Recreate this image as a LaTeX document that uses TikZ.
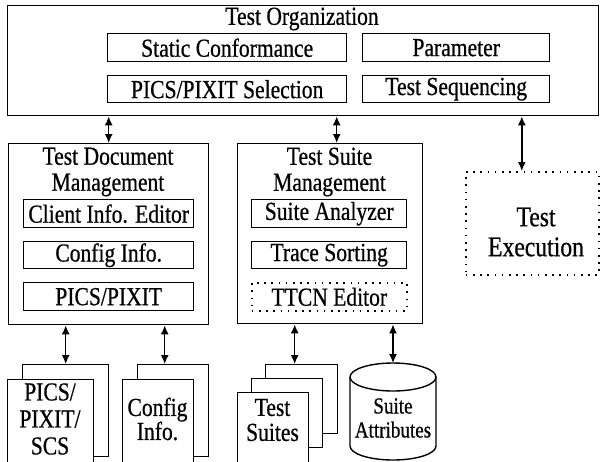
\documentclass[tikz,border=0pt]{standalone}
\usepackage{fontspec}
\setmainfont[FakeStretch=0.83,FakeBold=0.6]{Liberation Serif}
\usetikzlibrary{arrows.meta}
\begin{document}
\begin{tikzpicture}[x=1pt,y=-1pt,
  lw/.style={line width=1.4pt},
  frame/.style={draw,lw,fill=white,inner sep=0pt,anchor=north west},
  dotbox/.style={draw,line width=1.6pt,dash pattern=on 1.6pt off 5.6pt,inner sep=0pt,anchor=north west},
  txt/.style={inner sep=0pt,align=center,font=\fontsize{26}{26}\selectfont},
  dbl/.style={lw,{Latex[length=9pt,width=8pt]}-{Latex[length=9pt,width=8pt]}},
  ]
\useasboundingbox (0,0) rectangle (601,461);
\clip (0,0) rectangle (601,461);

% Test Organization
\node[frame,minimum width=591pt,minimum height=110pt] (top) at (7,5) {};
\node[txt] (toptitle) at (302,19) {Test Organization};
\node[frame,minimum width=239pt,minimum height=28pt,txt] (sc) at (107,33) {Static Conformance};
\node[frame,minimum width=187pt,minimum height=28pt,txt] (par) at (362,33) {Parameter};
\node[frame,minimum width=239pt,minimum height=27pt,txt] (pps) at (107,75) {PICS/PIXIT Selection};
\node[frame,minimum width=187pt,minimum height=27pt,txt] (tsq) at (362,75) {Test Sequencing};

% Test Document Management
\node[frame,minimum width=200pt,minimum height=181pt] (tdm) at (8,143) {};
\node[txt] (tdmtitle) at (108,172) {Test Document\\Management};
\node[frame,minimum width=170pt,minimum height=28pt,txt] (cie) at (23,199) {Client Info. Editor};
\node[frame,minimum width=170pt,minimum height=27pt,txt] (cfi) at (23,241) {Config Info.};
\node[frame,minimum width=170pt,minimum height=28pt,txt] (ppx) at (23,282) {PICS/PIXIT};

% Test Suite Management
\node[frame,minimum width=185pt,minimum height=180pt] (tsm) at (237,143) {};
\node[txt] (tsmtitle) at (329.5,172) {Test Suite\\Management};
\node[frame,minimum width=155pt,minimum height=28pt,txt] (san) at (251,199) {Suite Analyzer};
\node[frame,minimum width=155pt,minimum height=27pt,txt] (trs) at (251,241) {Trace Sorting};
\node[dotbox,minimum width=155pt,minimum height=28pt,txt] (ttcn) at (251,282) {TTCN Editor};

% Test Execution
\node[dotbox,minimum width=133pt,minimum height=103pt] (te) at (465,171) {};
\node[txt,font=\fontsize{28.5}{30}\selectfont] (tetxt) at (536,232) {Test\\Execution};

% document stacks
\node[frame,minimum width=86pt,minimum height=92pt] (pb) at (22,364) {};
\node[frame,minimum width=86pt,minimum height=90pt] (pf) at (7,379) {};
\node[txt,font=\fontsize{26}{27}\selectfont] (pftxt) at (50,419) {PICS/\\PIXIT/\\SCS};

\node[frame,minimum width=71pt,minimum height=92pt] (cb) at (137,364) {};
\node[frame,minimum width=71pt,minimum height=90pt] (cf) at (122,379) {};
\node[txt,font=\fontsize{26}{24}\selectfont] (cftxt) at (157.5,419) {Config\\Info.};

\node[frame,minimum width=72pt,minimum height=69pt] (sb) at (265,364) {};
\node[frame,minimum width=71pt,minimum height=69pt] (sm) at (251,378) {};
\node[frame,minimum width=71pt,minimum height=75pt] (sf) at (237,392) {};
\node[txt,font=\fontsize{26}{25}\selectfont] (sftxt) at (272.5,420) {Test\\Suites};

% cylinder
\draw[lw,fill=white] (350,377) -- (350,446) arc[start angle=180,end angle=360,x radius=43pt,y radius=14pt] -- (436,377);
\draw[lw] (393,377) ellipse [x radius=43pt,y radius=14pt];
\coordinate (cyltop) at (393,363);
\node[txt,font=\fontsize{23}{24}\selectfont] (cyl) at (393,418) {Suite\\Attributes};

% connectors
\draw[dbl] (top.south -| tdm.north) -- (tdm.north);
\draw[dbl] ([xshift=6.5pt]tsm.north |- top.south) -- ([xshift=6.5pt]tsm.north);
\draw[dbl] ([xshift=-10.5pt]te.north |- top.south) -- ([xshift=-10.5pt]te.north);
\draw[dbl] (pb.north |- tdm.south) -- (pb.north);
\draw[dbl] ([xshift=-8.5pt]cb.north |- tdm.south) -- ([xshift=-8.5pt]cb.north);
\draw[dbl] ([xshift=-7pt]sb.north |- tsm.south) -- ([xshift=-7pt]sb.north);
\draw[dbl] (cyltop |- tsm.south) -- (cyltop);
\end{tikzpicture}
\end{document}
